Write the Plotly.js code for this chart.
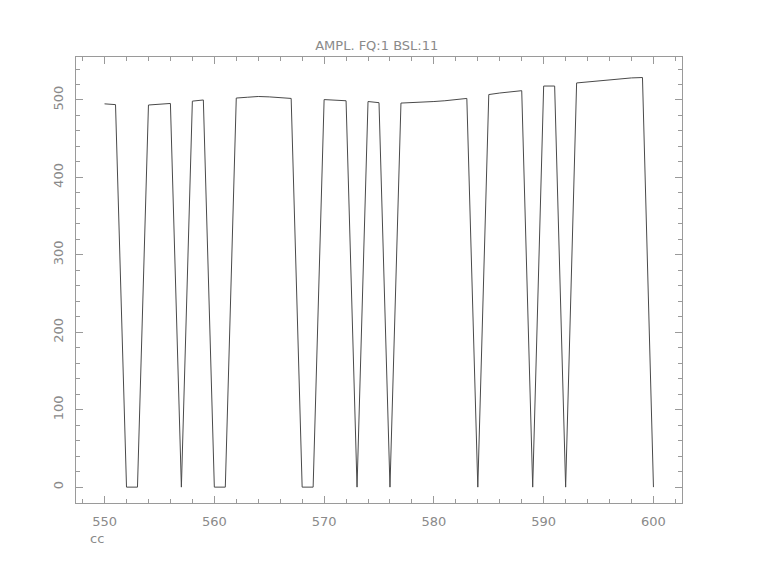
<!DOCTYPE html>
<html>
<head>
<meta charset="utf-8">
<script src="https://cdn.plot.ly/plotly-3.0.1.min.js"></script>
<style>html,body{margin:0;padding:0;background:#fff;}#chart{width:758px;height:564px;}</style>
</head>
<body>
<div id="chart"></div>
<script>
const xValues = [550,551,552,553,554,555,556,557,558,559,560,561,562,563,564,565,566,567,568,569,570,571,572,573,574,575,576,577,578,579,580,581,582,583,584,585,586,587,588,589,590,591,592,593,594,595,596,597,598,599,600];
const amplValues = [495,494,0,0,493.5,494.5,495.5,0,498.5,500,0,0,502.5,503.5,504.5,504,503,502,0,0,500.5,500,499,0,498,496.5,0,496,496.5,497,498,499,500.5,502,0,507,509,510.5,512,0,518,518,0,522,523.3,524.5,526,527.5,528.5,529,0];
const xTickVals = [550,560,570,580,590,600];
const yTickVals = [0,100,200,300,400,500];
const titleText = "AMPL. FQ:1 BSL:11";
const xLabelText = "cc";

const axisColor = "#9a9a9a";
const textColor = "#8a8a8a";
const fontFam = "DejaVu Sans, Liberation Sans, sans-serif";

const trace = {
  x: xValues, y: amplValues, type: "scatter", mode: "lines",
  line: {color: "#4a4a4a", width: 1}, hoverinfo: "skip"
};

const layout = {
  width: 758, height: 564,
  margin: {l: 76, r: 76, t: 57, b: 61},
  paper_bgcolor: "#ffffff", plot_bgcolor: "#ffffff",
  showlegend: false,
  title: {text: titleText, x: 0.497, xanchor: "center", y: 1 - 45/564, yanchor: "middle", yref: "container",
          font: {family: fontFam, size: 13, color: textColor}},
  xaxis: {
    range: [547.4, 602.6], showgrid: false, zeroline: false,
    showline: true, linecolor: axisColor, linewidth: 1, mirror: "ticks",
    ticks: "inside", ticklen: 7, tickcolor: axisColor, tickwidth: 1,
    tickvals: xTickVals, ticktext: xTickVals.map(String),
    tickfont: {family: fontFam, size: 13, color: textColor},
    ticklabelstandoff: 6,
    minor: {dtick: 2, ticks: "inside", ticklen: 4, tickcolor: axisColor, showgrid: false}
  },
  yaxis: {
    range: [-20.5, 555.5], showgrid: false, zeroline: false,
    showline: true, linecolor: axisColor, linewidth: 1, mirror: "ticks",
    ticks: "inside", ticklen: 7, tickcolor: axisColor, tickwidth: 1,
    tickvals: yTickVals, ticktext: yTickVals.map(String),
    tickangle: -90,
    tickfont: {family: fontFam, size: 13, color: textColor},
    ticklabelstandoff: 7,
    minor: {dtick: 20, ticks: "inside", ticklen: 4, tickcolor: axisColor, showgrid: false}
  },
  annotations: [{
    text: xLabelText, xref: "paper", yref: "paper",
    x: (97 - 76) / 606, y: (503 - 538) / 446, xanchor: "center", yanchor: "middle",
    showarrow: false, font: {family: fontFam, size: 13, color: textColor}
  }]
};

Plotly.newPlot("chart", [trace], layout, {staticPlot: true, displayModeBar: false});
</script>
</body>
</html>
